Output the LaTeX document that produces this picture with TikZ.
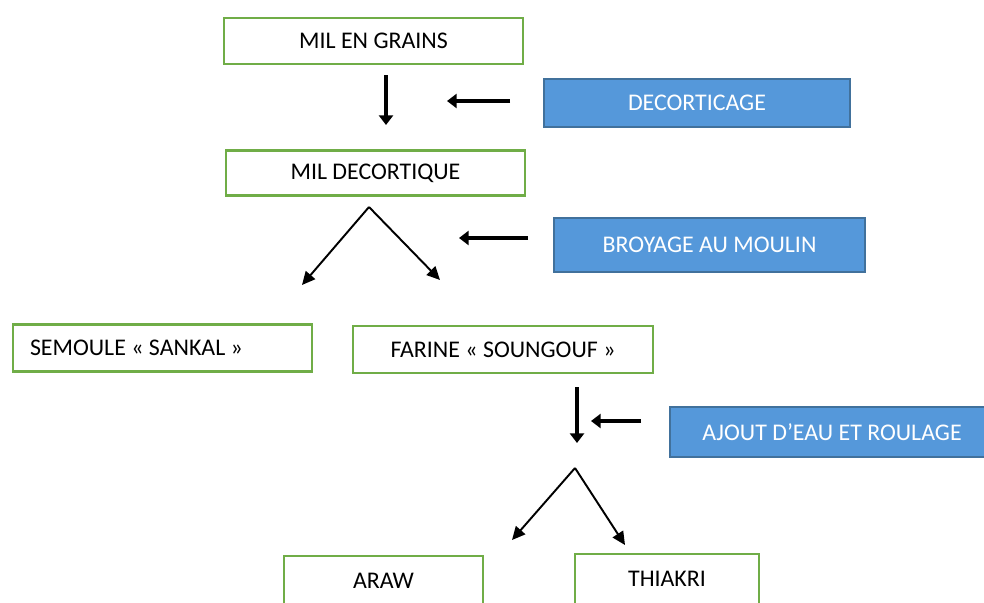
\documentclass[tikz,border=0pt]{standalone}
\usepackage{fontspec}
\setmainfont{Carlito}
\usetikzlibrary{shapes,arrows.meta}
\definecolor{prodgreen}{RGB}{112,173,71}
\definecolor{opblue}{RGB}{85,152,218}
\definecolor{opborder}{RGB}{65,113,156}

\begin{document}
\begin{tikzpicture}[x=0.02cm,y=-0.02cm]
\tikzstyle{product} = [draw=prodgreen, line width=1.2pt, fill=white, inner sep=0pt, font=\fontsize{13.6}{15}\selectfont]
\tikzstyle{operation} = [draw=opborder, line width=1.1pt, fill=opblue, text=white, inner sep=0pt, font=\fontsize{13.6}{15}\selectfont]
\tikzstyle{flow} = [line width=2.5pt, -{Triangle[length=5.5pt,width=8pt]}]
\tikzstyle{split} = [line width=1.1pt, -{Triangle[length=7.5pt,width=7pt]}]
\useasboundingbox (0,0) rectangle (984,602);
\clip (0,0) rectangle (984,602);
% produits
\node[product, minimum width=5.98cm, minimum height=0.92cm] (grains) at (373.5,41) {MIL EN GRAINS};
\node[product, minimum width=5.98cm, minimum height=0.90cm] (decortique) at (375.5,173) {MIL DECORTIQUE};
\node[product, minimum width=5.98cm, minimum height=0.94cm, text width=5.3cm, align=flush left] (semoule) at (162.5,348) {SEMOULE « SANKAL »};
\node[product, minimum width=6.00cm, minimum height=0.94cm] (farine) at (503,349.5) {FARINE « SOUNGOUF »};
\node[product, minimum width=3.98cm, minimum height=1.00cm] (araw) at (383.5,581) {ARAW};
\node[product, minimum width=3.68cm, minimum height=1.00cm] (thiakri) at (667,579) {THIAKRI};
% operations
\node[operation, minimum width=6.12cm, minimum height=0.96cm] (decorticage) at (697,103) {DECORTICAGE};
\node[operation, minimum width=6.22cm, minimum height=1.08cm] (broyage) at (709.5,245) {BROYAGE AU MOULIN};
\node[operation, minimum width=6.48cm, minimum height=1.00cm] (ajout) at (832,432) {AJOUT D’EAU ET ROULAGE};
% fleches
\coordinate (d1a) at (386,75);
\coordinate (d1b) at (386,125);
\coordinate (o1a) at (510,101);
\coordinate (o1b) at (447,101);
\coordinate (s1) at (369,207);
\coordinate (s1l) at (302,285);
\coordinate (s1r) at (440,280);
\coordinate (o2a) at (528,238);
\coordinate (o2b) at (459,238);
\coordinate (d2a) at (577,387);
\coordinate (d2b) at (577,443);
\coordinate (o3a) at (641,421);
\coordinate (o3b) at (591,421);
\coordinate (s2) at (575,468);
\coordinate (s2l) at (512,540);
\coordinate (s2r) at (625,545);
\draw[flow] (d1a) -- (d1b);
\draw[flow] (o1a) -- (o1b);
\draw[split] (s1) -- (s1l);
\draw[split] (s1) -- (s1r);
\draw[flow] (o2a) -- (o2b);
\draw[flow] (d2a) -- (d2b);
\draw[flow] (o3a) -- (o3b);
\draw[split] (s2) -- (s2l);
\draw[split] (s2) -- (s2r);
\end{tikzpicture}
\end{document}
